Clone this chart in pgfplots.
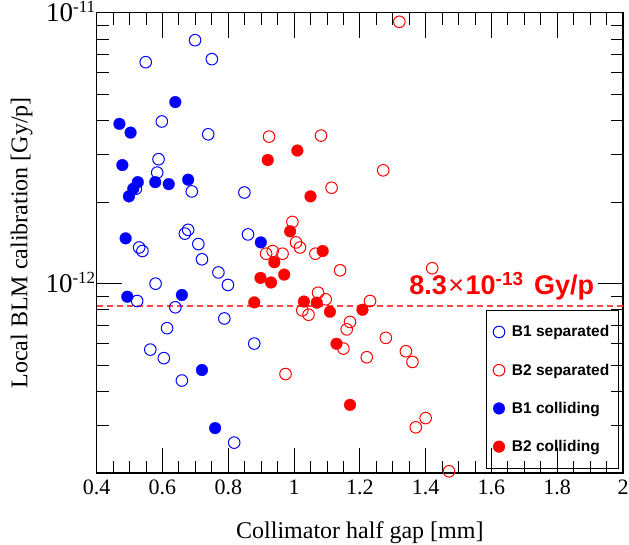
\documentclass[border=0pt]{standalone}
\usepackage{fontspec}
\setmainfont{Liberation Serif}
\setsansfont{Liberation Sans}
\usepackage{pgfplots}
\usepackage{pgfplotstable}
\pgfplotsset{compat=1.18}
\definecolor{pblue}{RGB}{0,0,255}
\definecolor{pred}{RGB}{255,0,0}
\definecolor{lred}{RGB}{255,70,70}
\newcommand{\tenpow}[1]{10\raisebox{9pt}{\fontsize{17}{18}\selectfont #1}}
\pgfplotstableread{
x y
0.699 7.92e-12
0.549 6.57e-12
0.750 6.74e-12
0.598 3.97e-12
0.739 3.56e-12
0.588 2.88e-12
0.584 2.57e-12
0.689 2.19e-12
0.849 2.17e-12
0.519 2.24e-12
0.678 1.58e-12
0.668 1.53e-12
0.860 1.52e-12
0.709 1.40e-12
0.529 1.36e-12
0.539 1.32e-12
0.720 1.23e-12
0.770 1.10e-12
0.799 9.89e-13
0.579 1.00e-12
0.523 8.63e-13
0.639 8.18e-13
0.788 7.44e-13
0.614 6.85e-13
0.563 5.71e-13
0.604 5.31e-13
0.879 6.01e-13
0.659 4.39e-13
0.818 2.59e-13
}\bonesep
\pgfplotstableread{
x y
1.320 9.26e-12
0.924 3.49e-12
1.082 3.52e-12
1.271 2.62e-12
1.114 2.26e-12
0.995 1.69e-12
1.006 1.42e-12
1.018 1.36e-12
0.915 1.29e-12
0.935 1.32e-12
0.965 1.29e-12
1.065 1.29e-12
1.140 1.12e-12
1.420 1.14e-12
1.073 9.26e-13
1.096 8.75e-13
1.231 8.63e-13
1.025 7.97e-13
1.044 7.68e-13
1.170 7.22e-13
1.160 6.78e-13
1.279 6.31e-13
1.150 5.76e-13
1.221 5.35e-13
1.340 5.63e-13
1.360 5.14e-13
0.974 4.64e-13
1.400 3.19e-13
1.370 2.95e-13
1.471 2.03e-13
}\btwosep
\pgfplotstableread{
x y
0.639 4.68e-12
0.469 3.89e-12
0.503 3.61e-12
0.478 2.74e-12
0.525 2.37e-12
0.511 2.24e-12
0.498 2.10e-12
0.578 2.37e-12
0.619 2.33e-12
0.678 2.42e-12
0.488 1.47e-12
0.899 1.42e-12
0.493 8.95e-13
0.659 9.08e-13
0.720 4.80e-13
0.760 2.93e-13
}\bonecol
\pgfplotstableread{
x y
0.920 2.86e-12
1.010 3.10e-12
1.050 2.10e-12
0.988 1.56e-12
0.940 1.20e-12
1.087 1.32e-12
0.898 1.05e-12
0.930 1.01e-12
0.970 1.08e-12
0.879 8.53e-13
1.030 8.59e-13
1.069 8.51e-13
1.109 7.88e-13
1.208 8.01e-13
1.129 6.00e-13
1.170 3.57e-13
}\btwocol
\pgfplotstableread{
x y
0.4 8.3e-13
2.0 8.3e-13
}\refline
\begin{document}
\begin{tikzpicture}
\begin{axis}[
  scale only axis, width=526.3pt, height=460.3pt,
  xmin=0.4, xmax=2, ymode=log, ymin=2e-13, ymax=1e-11,
  axis line style={line width=1.3pt},
  tick align=inside,
  major tick length=25pt, minor tick length=12.5pt,
  every tick/.style={line width=0.9pt, black},
  xtick={0.4,0.6,0.8,1,1.2,1.4,1.6,1.8,2},
  xticklabels={0.4,0.6,0.8,1,1.2,1.4,1.6,1.8,2},
  minor x tick num=3,
  ytick={1e-12,1e-11},
  yticklabels={\tenpow{-12},\tenpow{-11}},
  minor ytick={3e-13,4e-13,5e-13,6e-13,7e-13,8e-13,9e-13,2e-12,3e-12,4e-12,5e-12,6e-12,7e-12,8e-12,9e-12},
  xticklabel style={font=\fontsize{22}{26}\selectfont, yshift=-3pt},
  yticklabel style={font=\fontsize{27}{30}\selectfont, anchor=base east, yshift=-9pt, xshift=2pt},
  xlabel={Collimator half gap [mm]},
  ylabel={Local BLM calibration [Gy/p]},
  label style={font=\fontsize{24}{28}\selectfont},
  xlabel style={at={(axis description cs:0.5,-0.13)}, anchor=center},
  ylabel style={at={(axis description cs:-0.1426,0.5)}, anchor=center},
  legend style={at={(axis description cs:0.739,0.0087)}, anchor=south west,
    draw=black, line width=1pt, fill=none,
    font=\fontsize{15.5}{18}\selectfont\sffamily\bfseries,
    row sep=21.5pt, inner xsep=7pt, inner ysep=13.5pt,
    /tikz/every odd column/.append style={column sep=5pt}},
  legend cell align=left,
]
\addplot[only marks, color=pblue, mark=o, mark options={line width=1pt}, mark size=5.8pt] table[x=x,y=y] {\bonesep};
\addlegendentry{B1 separated}
\addplot[only marks, color=pred, mark=o, mark options={line width=1pt}, mark size=5.8pt] table[x=x,y=y] {\btwosep};
\addlegendentry{B2 separated}
\addplot[only marks, color=pblue, mark=*, mark options={draw=pblue, fill=pblue, line width=0.2pt}, mark size=5.9pt] table[x=x,y=y] {\bonecol};
\addlegendentry{B1 colliding}
\addplot[only marks, color=pred, mark=*, mark options={draw=pred, fill=pred, line width=0.2pt}, mark size=5.9pt] table[x=x,y=y] {\btwocol};
\addlegendentry{B2 colliding}
\addplot[forget plot, lred, solid, no markers, line width=2pt, dash pattern=on 6pt off 4pt] table[x=x,y=y] {\refline};
\node[anchor=base west, text=pred, inner sep=0pt, font=\fontsize{27}{30}\selectfont\sffamily\bfseries] at (axis cs:1.35,9.14e-13) {8.3\hspace{1.5pt}{\mdseries ×}\hspace{1.5pt}10\textsuperscript{-13}\hspace{3pt} Gy/p};
\end{axis}
\pgfresetboundingbox
\path ([shift={(-96.7pt,-72pt)}]current axis.south west) rectangle ([shift={(6pt,12.7pt)}]current axis.north east);
\end{tikzpicture}
\end{document}
